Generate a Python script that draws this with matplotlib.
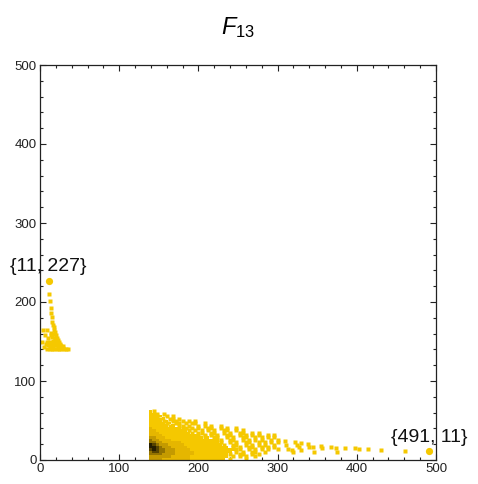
import numpy as np
import matplotlib
matplotlib.use("Agg")
import matplotlib.pyplot as plt
from matplotlib.colors import ListedColormap, BoundaryNorm
from matplotlib.ticker import MultipleLocator

plt.rcParams['font.family'] = ['Liberation Sans', 'DejaVu Sans']
plt.rcParams['mathtext.fontset'] = 'custom'
plt.rcParams['mathtext.it'] = 'Liberation Sans:italic'
plt.rcParams['mathtext.rm'] = 'Liberation Sans'

# ---- data -------------------------------------------------------------
# dense front: density level per cell (0 = empty, 1 = single point), rows from
# the top (y=63) down to the axis, columns from x=138 in steps of 4;
# each row spans 3 units of y
cloud_x0, cloud_dx = 138, 4
cloud_ytop, cloud_dy = 63, 3
cloud_rows = [
    "21",
    "221.1",
    "2212.1.1",
    "22212.11.1",
    "222212.11.1.1.1",
    "2222212.11.1.11..1",
    "22222212.11.1..1.1.1..1",
    "322222222211.1.1..11..1.1..1",
    "3322222222221.1.1.1.1..11..1.1",
    "33322222222221.11..11..1.1..11..1.1",
    "3333222222222221.1.1.1..11..1.1.1.1..1.1.",
    "4433322222222222212.11..1.1..11..1.1.1.1.",
    "54433332222222222222211..11..1.1.1.1..1.1",
    "55443333332222222222221..1.1..11..1.1.1.1",
    "765444333332222222222221..11..1.1.1.1..1.",
    "7765444333332222222222222.1.1..11..1.1.1.",
    "67655444333332222222222222211..1.1.1.1..1",
    "56655444333333222222222222.1.1..11..1....",
    "55554444333333222222222221..11..1.1......",
    "4444444333333222222222222.1.1.1..1.......",
    "444433333333322222222222.1....1..........",
]

# sparse tail of the front
tail_x = [309, 310.6, 312.7, 317.7, 319.8, 322, 325, 327, 330, 329.5,
          338.8, 340, 345, 346, 354.8, 356.5, 368, 373.7, 375, 385,
          397.7, 402.8, 414.5, 431, 460.8]
tail_y = [24, 19, 13.5, 12.7, 9.7, 23, 19, 17, 21, 12.7,
          19.8, 17, 16, 10.5, 17.7, 15.6, 16, 14.8, 9.7, 15.6,
          14.8, 13.9, 13.5, 12.7, 11.8]

# small cluster near the y axis
left_x = [11.8, 12.6, 13.5, 14, 14.7, 15.6, 16.4, 17.2, 17.9, 18.6,
          14, 17, 20, 15, 18.5, 21, 23, 3.4, 8.4, 6, 10, 3, 7, 5,
          12, 16, 19.5, 22, 25, 10, 13.5, 17, 20, 23, 26, 28.5,
          8.5, 12, 15, 18, 21, 24, 27, 30, 33, 35.8,
          14.5, 20.5, 24, 9, 12, 19, 22, 16, 25.5, 29]
left_y = [210, 201, 192, 186, 181, 175, 171, 168, 165, 162,
          161, 159, 158, 156, 155, 154, 152, 164, 164, 158, 155, 150, 147, 143,
          150, 151, 149, 148, 147, 145, 146, 144, 145, 143, 144, 142,
          141, 140, 141, 140, 141, 141, 140, 141, 140, 141,
          158, 151, 150, 150, 143, 153, 145, 147, 145, 144]

# extreme points
ext_x = [11, 491]
ext_y = [227, 11]
ext_labels = ["{11, 227}", "{491, 11}"]

# ---- figure -----------------------------------------------------------
gold = '#F5C800'
level_colors = ['#F6CC1A', '#F5C800', '#E5B600', '#C49A00', '#937300',
                '#574400', '#261E00']

fig = plt.figure(figsize=(4.78, 4.84), dpi=100)
ax = fig.add_axes([40 / 478, 24 / 484, 396 / 478, 395 / 484])

ncols = max(len(r) for r in cloud_rows)
levels = np.array([[int(ch) if ch.isdigit() else 0 for ch in r.ljust(ncols, '.')]
                   for r in cloud_rows])
xe = cloud_x0 + cloud_dx * np.arange(ncols + 1)
ye = cloud_ytop - cloud_dy * np.arange(len(cloud_rows) + 1)
cmap = ListedColormap(level_colors)
norm = BoundaryNorm(np.arange(0.5, len(level_colors) + 1.5), cmap.N)

# filled cells for the dense part, single dots where only one point sits
ax.pcolormesh(xe, ye, np.ma.masked_less(levels, 2), cmap=cmap, norm=norm,
              shading='flat', zorder=2)
rr, cc = np.nonzero(levels == 1)
xc = (xe[:-1] + xe[1:]) / 2
yc = (ye[:-1] + ye[1:]) / 2
ax.plot(xc[cc], yc[rr], 's', ms=2.5, color=gold, mec='none', zorder=2)

ax.plot(tail_x, tail_y, 's', ms=2.3, color=gold, mec='none', zorder=2)
ax.plot(left_x, left_y, 's', ms=2.3, color=gold, mec='none', zorder=2)
ax.plot(ext_x, ext_y, 'o', ms=5.2, color=gold, mec='none', zorder=3)
for x, y, t in zip(ext_x, ext_y, ext_labels):
    ax.annotate(t, (x, y), xytext=(0, 10), textcoords='offset points',
                ha='center', va='center', fontsize=14, color='#111111',
                zorder=4, annotation_clip=False)

ax.set_xlim(0, 500)
ax.set_ylim(0, 500)
ax.xaxis.set_major_locator(MultipleLocator(100))
ax.yaxis.set_major_locator(MultipleLocator(100))
ax.xaxis.set_minor_locator(MultipleLocator(20))
ax.yaxis.set_minor_locator(MultipleLocator(20))
ax.tick_params(which='both', direction='in', top=True, right=True,
               labelsize=9.5, colors='#222222', width=0.8)
ax.tick_params(which='major', length=4.5, pad=2.5)
ax.tick_params(which='minor', length=2.3)
for s in ax.spines.values():
    s.set_linewidth(0.9)
    s.set_color('#222222')

ax.set_title(r'$\mathit{F}_{13}$', fontsize=17, pad=22)

fig.savefig('out.png', dpi=100)
